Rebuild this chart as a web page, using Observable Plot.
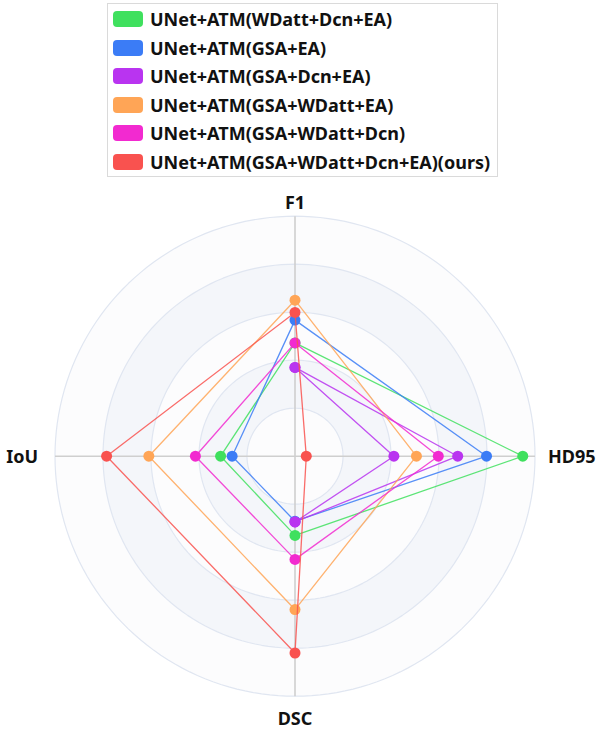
<!DOCTYPE html>
<html><head><meta charset="utf-8">
<script src="https://cdn.jsdelivr.net/npm/d3@7"></script>
<script src="https://cdn.jsdelivr.net/npm/@observablehq/plot@0.6"></script>
<style>
body{margin:0;background:#fff;font-family:"Noto Sans",sans-serif;}
#wrap{width:600px;height:731px;position:relative;overflow:hidden;}
#legend{position:absolute;left:107px;top:3px;width:391px;height:174px;border:1px solid #dadada;box-sizing:border-box;}
.item{position:absolute;left:5px;height:22px;display:flex;align-items:center;white-space:nowrap;}
.sw{width:30px;height:16px;border-radius:4px;margin-right:7px;flex:none;}
.lab{font-weight:700;font-size:18px;color:#111;letter-spacing:0px;}
#chart{position:absolute;left:0;top:180px;}
</style></head>
<body><div id="wrap"><div id="legend"></div><div id="chart"></div></div>
<script>
// Indicators (clockwise from top)
const indicators = ["F1", "HD95", "DSC", "IoU"];
const ringLevels = [20, 40, 60, 80, 100];

// Series names & colours
const seriesNames = [
  "UNet+ATM(WDatt+Dcn+EA)",
  "UNet+ATM(GSA+EA)",
  "UNet+ATM(GSA+Dcn+EA)",
  "UNet+ATM(GSA+WDatt+EA)",
  "UNet+ATM(GSA+WDatt+Dcn)",
  "UNet+ATM(GSA+WDatt+Dcn+EA)(ours)"
];
const seriesColors = ["#3fe05e", "#3b7cf6", "#b934f0", "#ffa556", "#f22ad0", "#f9524f"];

// Values, as % of the radar's outer radius: [F1, HD95, DSC, IoU]
const wdattDcnEa   = [47.2, 94.9, 33.0, 31.0];
const gsaEa        = [56.7, 79.8, 27.1, 26.2];
const gsaDcnEa     = [37.0, 41.2, 27.4, null];
const gsaDcnEaB    = [37.0, 67.8, 27.4, null]; // second purple trace visible in the picture
const gsaWdattEa   = [65.0, 50.6, 63.9, 60.9];
const gsaWdattDcn  = [47.2, 59.7, 43.0, 41.5];
const ours         = [59.9,  4.7, 82.0, 78.5];

const series = [
  {name: seriesNames[0], color: seriesColors[0], values: wdattDcnEa},
  {name: seriesNames[1], color: seriesColors[1], values: gsaEa},
  {name: seriesNames[2], color: seriesColors[2], values: gsaDcnEa},
  {name: seriesNames[2], color: seriesColors[2], values: gsaDcnEaB},
  {name: seriesNames[3], color: seriesColors[3], values: gsaWdattEa},
  {name: seriesNames[4], color: seriesColors[4], values: gsaWdattDcn},
  {name: seriesNames[5], color: seriesColors[5], values: ours}
];

// Legend
const leg = document.getElementById("legend");
const rowTops = [4, 33, 61, 90, 118, 147];
seriesNames.forEach((n, i) => {
  const it = document.createElement("div");
  it.className = "item";
  it.style.top = rowTops[i] + "px";
  it.innerHTML = `<div class="sw" style="background:${seriesColors[i]}"></div><span class="lab">${n}</span>`;
  leg.appendChild(it);
});

// Geometry
const W = 600, H = 551, Rpx = 240, cx = 294.5, cy = 275.7;
const ang = i => i * Math.PI / 2;
const px = (v, i) => v == null ? NaN : v * Math.sin(ang(i));
const py = (v, i) => v == null ? NaN : v * Math.cos(ang(i));

const circle = lvl => d3.range(0, 361, 2).map(a => ({x: lvl * Math.sin(a * Math.PI / 180), y: lvl * Math.cos(a * Math.PI / 180)}));

const marks = [];
// split areas (outer to inner)
ringLevels.slice().reverse().forEach(lvl => {
  const k = ringLevels.indexOf(lvl);
  marks.push(Plot.line(circle(lvl), {x: "x", y: "y", fill: k % 2 === 0 ? "#fcfcfd" : "#f4f6fa", stroke: "none"}));
});
ringLevels.forEach(lvl => {
  marks.push(Plot.line(circle(lvl), {x: "x", y: "y", stroke: "#e0e6f1", strokeWidth: 1.2}));
});
// axis lines
marks.push(Plot.link(indicators, {
  x1: () => 0, y1: () => 0,
  x2: (d, i) => 100 * Math.sin(ang(i)), y2: (d, i) => 100 * Math.cos(ang(i)),
  stroke: "#cfcfcf", strokeWidth: 1.6
}));
// series
series.forEach(s => {
  const pts = [0, 1, 2, 3, 0].map(i => ({x: px(s.values[i], i), y: py(s.values[i], i)}));
  marks.push(Plot.line(pts, {x: "x", y: "y", stroke: s.color, strokeWidth: 1.3, strokeOpacity: 0.85}));
  const dots = [0, 1, 2, 3].filter(i => s.values[i] != null).map(i => ({x: px(s.values[i], i), y: py(s.values[i], i)}));
  marks.push(Plot.dot(dots, {x: "x", y: "y", r: 5.5, fill: s.color, stroke: "none"}));
});
// indicator labels
const labelOpts = [
  {dx: 0, dy: -13, textAnchor: "middle"},
  {dx: 13, dy: 1, textAnchor: "start"},
  {dx: 0, dy: 23, textAnchor: "middle"},
  {dx: -17, dy: 1, textAnchor: "end"}
];
indicators.forEach((name, i) => {
  marks.push(Plot.text([name], {
    x: () => 100 * Math.sin(ang(i)), y: () => 100 * Math.cos(ang(i)),
    text: d => d, fontSize: 18, fontWeight: 700, fill: "#111",
    fontFamily: "Noto Sans", ...labelOpts[i]
  }));
});

const chart = Plot.plot({
  width: W, height: H,
  margin: 0,
  x: {domain: [-cx / Rpx * 100, (W - cx) / Rpx * 100], range: [0, W], axis: null},
  y: {domain: [-(H - cy) / Rpx * 100, cy / Rpx * 100], range: [H, 0], axis: null},
  style: {background: "transparent", overflow: "visible"},
  marks
});
document.getElementById("chart").appendChild(chart);
</script>
</body></html>
